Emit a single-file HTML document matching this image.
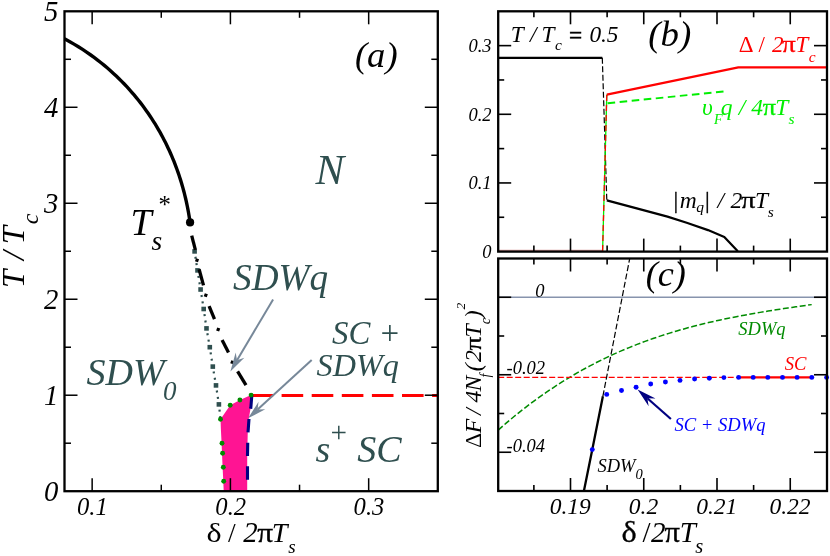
<!DOCTYPE html>
<html><head><meta charset="utf-8"><title>fig</title>
<style>html,body{margin:0;padding:0;background:#fff;}body{width:830px;height:556px;overflow:hidden;font-family:"Liberation Serif",serif;}svg{display:block;opacity:0.999;will-change:transform;font-family:"Liberation Serif",serif;}</style>
</head><body>
<svg width="830" height="556" viewBox="0 0 830 556">
<rect x="0" y="0" width="830" height="556" fill="#fff"/>
<polygon points="223.7,491.0 223.3,481.3 222.6,467.3 222.0,453.3 221.6,443.2 220.9,429.6 220.5,419.2 230.2,405.2 239.9,400.0 251.1,395.1 250.6,408.0 248.8,418.8 247.7,434.0 247.2,455.5 247.2,491.0" fill="#ff1493"/>
<polyline points="194.60,251.40 197.50,270.40 200.60,289.50 203.70,309.00 206.50,328.40 209.80,347.20 212.80,366.60 216.00,385.40 218.90,404.40 220.50,419.20" fill="none" stroke="#2f4f4f" stroke-width="2.2" stroke-dasharray="2 4.45" stroke-dashoffset="1"/>
<rect x="192.30" y="249.10" width="4.6" height="4.6" fill="#2f4f4f"/>
<rect x="195.20" y="268.10" width="4.6" height="4.6" fill="#2f4f4f"/>
<rect x="198.30" y="287.20" width="4.6" height="4.6" fill="#2f4f4f"/>
<rect x="201.40" y="306.70" width="4.6" height="4.6" fill="#2f4f4f"/>
<rect x="204.20" y="326.10" width="4.6" height="4.6" fill="#2f4f4f"/>
<rect x="207.50" y="344.90" width="4.6" height="4.6" fill="#2f4f4f"/>
<rect x="210.50" y="364.30" width="4.6" height="4.6" fill="#2f4f4f"/>
<rect x="213.70" y="383.10" width="4.6" height="4.6" fill="#2f4f4f"/>
<rect x="216.60" y="402.10" width="4.6" height="4.6" fill="#2f4f4f"/>
<polyline points="64.50,38.78 69.38,41.44 74.00,44.11 78.39,46.77 82.58,49.43 86.58,52.09 90.41,54.75 94.08,57.42 97.61,60.08 101.01,62.74 104.28,65.40 107.44,68.06 110.49,70.73 113.43,73.39 116.28,76.05 119.04,78.71 121.71,81.37 124.30,84.04 126.80,86.70 129.24,89.36 131.59,92.02 133.88,94.68 136.10,97.35 138.26,100.01 140.36,102.67 142.39,105.33 144.37,107.99 146.29,110.65 148.15,113.32 149.97,115.98 151.73,118.64 153.44,121.30 155.10,123.96 156.72,126.63 158.29,129.29 159.81,131.95 161.29,134.61 162.73,137.27 164.12,139.94 165.48,142.60 166.79,145.26 168.06,147.92 169.30,150.58 170.50,153.25 171.66,155.91 172.78,158.57 173.87,161.23 174.92,163.89 175.94,166.56 176.92,169.22 177.87,171.88 178.79,174.54 179.67,177.20 180.52,179.87 181.34,182.53 182.13,185.19 182.89,187.85 183.61,190.51 184.31,193.17 184.97,195.84 185.61,198.50 186.22,201.16 186.80,203.82 187.35,206.48 187.87,209.15 188.36,211.81 188.83,214.47 189.27,217.13 189.68,219.79 190.07,222.46" fill="none" stroke="#000" stroke-width="3.4" stroke-linejoin="round"/>
<circle cx="190.07" cy="222.46" r="4.1" fill="#000"/>
<line x1="191.70" y1="235.70" x2="195.40" y2="249.80" stroke="#000" stroke-width="3.3" />
<line x1="199.10" y1="269.30" x2="203.50" y2="285.40" stroke="#000" stroke-width="3.3" />
<line x1="209.10" y1="306.20" x2="214.50" y2="319.10" stroke="#000" stroke-width="3.3" />
<line x1="222.10" y1="340.00" x2="228.50" y2="352.60" stroke="#000" stroke-width="3.3" />
<line x1="237.60" y1="371.40" x2="246.00" y2="385.20" stroke="#000" stroke-width="3.3" />
<rect x="195.40" y="258.70" width="3.2" height="3.2" fill="#000" transform="rotate(20 197.0 260.3)"/>
<rect x="204.20" y="293.70" width="3.2" height="3.2" fill="#000" transform="rotate(20 205.8 295.3)"/>
<rect x="216.60" y="327.90" width="3.2" height="3.2" fill="#000" transform="rotate(20 218.2 329.5)"/>
<rect x="230.70" y="360.60" width="3.2" height="3.2" fill="#000" transform="rotate(20 232.3 362.2)"/>
<line x1="251.50" y1="395.40" x2="437.80" y2="395.40" stroke="#ff0000" stroke-width="3.0" stroke-dasharray="21.6 8.5"/>
<polyline points="251.80,395.50 250.80,408.00 249.00,418.80 247.90,434.00 247.50,455.50 247.50,491.00" fill="none" stroke="#000080" stroke-width="3.1" stroke-dasharray="13.4 10.3"/>
<circle cx="251.1" cy="395.1" r="2.45" fill="#008b00"/>
<circle cx="239.9" cy="400.0" r="2.45" fill="#008b00"/>
<circle cx="230.2" cy="405.2" r="2.45" fill="#008b00"/>
<circle cx="220.5" cy="419.2" r="2.45" fill="#008b00"/>
<circle cx="222.0" cy="443.2" r="2.45" fill="#008b00"/>
<circle cx="222.6" cy="453.3" r="2.45" fill="#008b00"/>
<circle cx="223.3" cy="467.3" r="2.45" fill="#008b00"/>
<circle cx="223.7" cy="481.3" r="2.45" fill="#008b00"/>
<line x1="273.10" y1="299.40" x2="237.03" y2="360.22" stroke="#778899" stroke-width="2.0" />
<polygon points="230.40,371.40 244.35,357.77 237.03,360.22 235.67,352.62" fill="#778899"/>
<line x1="311.70" y1="360.10" x2="257.60" y2="409.53" stroke="#778899" stroke-width="2.0" />
<polygon points="248.00,418.30 265.31,409.32 257.60,409.53 258.50,401.87" fill="#778899"/>
<rect x="64.5" y="11.3" width="373.30" height="479.90" fill="none" stroke="#000" stroke-width="2.3"/>
<line x1="92.15" y1="491.20" x2="92.15" y2="478.20" stroke="#000" stroke-width="1.5" />
<line x1="92.15" y1="11.30" x2="92.15" y2="24.30" stroke="#000" stroke-width="1.5" />
<line x1="161.28" y1="491.20" x2="161.28" y2="484.70" stroke="#000" stroke-width="1.5" />
<line x1="161.28" y1="11.30" x2="161.28" y2="17.80" stroke="#000" stroke-width="1.5" />
<line x1="230.41" y1="491.20" x2="230.41" y2="478.20" stroke="#000" stroke-width="1.5" />
<line x1="230.41" y1="11.30" x2="230.41" y2="24.30" stroke="#000" stroke-width="1.5" />
<line x1="299.54" y1="491.20" x2="299.54" y2="484.70" stroke="#000" stroke-width="1.5" />
<line x1="299.54" y1="11.30" x2="299.54" y2="17.80" stroke="#000" stroke-width="1.5" />
<line x1="368.67" y1="491.20" x2="368.67" y2="478.20" stroke="#000" stroke-width="1.5" />
<line x1="368.67" y1="11.30" x2="368.67" y2="24.30" stroke="#000" stroke-width="1.5" />
<line x1="64.50" y1="443.21" x2="71.00" y2="443.21" stroke="#000" stroke-width="1.5" />
<line x1="437.80" y1="443.21" x2="431.30" y2="443.21" stroke="#000" stroke-width="1.5" />
<line x1="64.50" y1="395.22" x2="77.50" y2="395.22" stroke="#000" stroke-width="1.5" />
<line x1="437.80" y1="395.22" x2="424.80" y2="395.22" stroke="#000" stroke-width="1.5" />
<line x1="64.50" y1="347.23" x2="71.00" y2="347.23" stroke="#000" stroke-width="1.5" />
<line x1="437.80" y1="347.23" x2="431.30" y2="347.23" stroke="#000" stroke-width="1.5" />
<line x1="64.50" y1="299.24" x2="77.50" y2="299.24" stroke="#000" stroke-width="1.5" />
<line x1="437.80" y1="299.24" x2="424.80" y2="299.24" stroke="#000" stroke-width="1.5" />
<line x1="64.50" y1="251.25" x2="71.00" y2="251.25" stroke="#000" stroke-width="1.5" />
<line x1="437.80" y1="251.25" x2="431.30" y2="251.25" stroke="#000" stroke-width="1.5" />
<line x1="64.50" y1="203.26" x2="77.50" y2="203.26" stroke="#000" stroke-width="1.5" />
<line x1="437.80" y1="203.26" x2="424.80" y2="203.26" stroke="#000" stroke-width="1.5" />
<line x1="64.50" y1="155.27" x2="71.00" y2="155.27" stroke="#000" stroke-width="1.5" />
<line x1="437.80" y1="155.27" x2="431.30" y2="155.27" stroke="#000" stroke-width="1.5" />
<line x1="64.50" y1="107.28" x2="77.50" y2="107.28" stroke="#000" stroke-width="1.5" />
<line x1="437.80" y1="107.28" x2="424.80" y2="107.28" stroke="#000" stroke-width="1.5" />
<line x1="64.50" y1="59.29" x2="71.00" y2="59.29" stroke="#000" stroke-width="1.5" />
<line x1="437.80" y1="59.29" x2="431.30" y2="59.29" stroke="#000" stroke-width="1.5" />
<text x="58.40" y="501.20" font-size="28.7" fill="#000" text-anchor="end" font-style="italic" >0</text>
<text x="58.40" y="405.22" font-size="28.7" fill="#000" text-anchor="end" font-style="italic" >1</text>
<text x="58.40" y="309.24" font-size="28.7" fill="#000" text-anchor="end" font-style="italic" >2</text>
<text x="58.40" y="213.26" font-size="28.7" fill="#000" text-anchor="end" font-style="italic" >3</text>
<text x="58.40" y="117.28" font-size="28.7" fill="#000" text-anchor="end" font-style="italic" >4</text>
<text x="58.40" y="21.30" font-size="28.7" fill="#000" text-anchor="end" font-style="italic" >5</text>
<text x="92.45" y="514.50" font-size="24.6" fill="#000" text-anchor="middle" font-style="italic" >0.1</text>
<text x="230.71" y="514.50" font-size="24.6" fill="#000" text-anchor="middle" font-style="italic" >0.2</text>
<text x="368.97" y="514.50" font-size="24.6" fill="#000" text-anchor="middle" font-style="italic" >0.3</text>
<g transform="translate(24.3,285.9) rotate(-90)">
<text x="-2.13" y="0.00" font-size="32.6" fill="#000" font-style="italic" font-weight="normal">T</text>
<text x="25.80" y="0.00" font-size="32.6" fill="#000" font-style="italic" font-weight="normal">/</text>
<text x="41.57" y="0.00" font-size="32.6" fill="#000" font-style="italic" font-weight="normal">T</text>
<text x="61.56" y="13.50" font-size="24" fill="#000" font-style="italic" font-weight="normal">c</text>
</g>
<text transform="translate(206.59,541.60) scale(1.1662,1)" font-size="27.5" fill="#000" font-style="normal" font-weight="normal">δ</text>
<text x="228.00" y="541.60" font-size="27.5" fill="#000" font-style="normal" font-weight="normal">/</text>
<text x="243.29" y="541.80" font-size="28.8" fill="#000" font-style="italic" font-weight="normal">2</text>
<text transform="translate(257.17,541.60) scale(1.1457,1)" font-size="27.5" fill="#000" font-style="normal" font-weight="normal" stroke="#000" stroke-width="0.3">π</text>
<text x="271.75" y="541.80" font-size="28.3" fill="#000" font-style="italic" font-weight="normal">T</text>
<text x="288.37" y="552.90" font-size="19" fill="#000" font-style="italic" font-weight="normal">s</text>
<text x="354.91" y="66.70" font-size="36.6" fill="#000" font-style="italic" font-weight="normal">(a)</text>
<text x="315.41" y="184.30" font-size="43" fill="#2f4f4f" font-style="italic" font-weight="normal">N</text>
<text x="233.06" y="290.00" font-size="37.2" fill="#2f4f4f" font-style="italic" font-weight="normal">SDWq</text>
<text x="332.02" y="344.30" font-size="32.8" fill="#2f4f4f" font-style="italic" font-weight="normal">SC +</text>
<text x="316.62" y="376.40" font-size="32.2" fill="#2f4f4f" font-style="italic" font-weight="normal">SDWq</text>
<text x="86.55" y="384.80" font-size="38" fill="#2f4f4f" font-style="italic" font-weight="normal">SDW</text>
<text x="162.96" y="399.80" font-size="27" fill="#2f4f4f" font-style="italic" font-weight="normal">0</text>
<text x="315.44" y="461.80" font-size="38" fill="#2f4f4f" font-style="italic" font-weight="normal">s</text>
<text x="328.70" y="442.00" font-size="29" fill="#2f4f4f" font-style="italic" font-weight="normal">+</text>
<text x="357.35" y="461.80" font-size="38" fill="#2f4f4f" font-style="italic" font-weight="normal">SC</text>
<text x="130.41" y="235.10" font-size="38" fill="#000" font-style="italic" font-weight="normal">T</text>
<text x="151.56" y="249.80" font-size="27.5" fill="#000" font-style="italic" font-weight="normal">s</text>
<text x="157.20" y="213.00" font-size="25" fill="#000" font-style="italic" font-weight="normal">*</text>
<polyline points="498.20,57.80 602.30,57.80" fill="none" stroke="#000" stroke-width="2.2" />
<polyline points="602.30,57.80 606.80,200.40" fill="none" stroke="#000" stroke-width="1.2" stroke-dasharray="6 2.5"/>
<polyline points="606.80,200.40 638.60,208.90 667.50,216.60 686.70,222.80 708.00,230.10 724.30,236.90 737.80,251.30" fill="none" stroke="#000" stroke-width="2.2" stroke-linejoin="round"/>
<polyline points="498.20,250.30 602.60,250.30" fill="none" stroke="#b03030" stroke-width="0.6" />
<polyline points="602.60,251.00 606.80,94.60" fill="none" stroke="#00ee00" stroke-width="1.3" />
<polyline points="602.60,251.00 606.80,94.60" fill="none" stroke="#ff0000" stroke-width="1.3" stroke-dasharray="6 4"/>
<polyline points="606.80,94.60 738.30,67.40 827.00,67.40" fill="none" stroke="#ff0000" stroke-width="2.1" stroke-linejoin="round"/>
<polyline points="607.60,103.20 724.60,91.40" fill="none" stroke="#00ee00" stroke-width="1.9" stroke-dasharray="7.6 4.5"/>
<rect x="498.2" y="11.3" width="328.80" height="240.30" fill="none" stroke="#000" stroke-width="2.3"/>
<line x1="533.88" y1="251.60" x2="533.88" y2="245.60" stroke="#000" stroke-width="1.6" />
<line x1="533.88" y1="11.30" x2="533.88" y2="17.30" stroke="#000" stroke-width="1.6" />
<line x1="533.88" y1="491.00" x2="533.88" y2="485.00" stroke="#000" stroke-width="1.6" />
<line x1="533.88" y1="258.50" x2="533.88" y2="264.50" stroke="#000" stroke-width="1.6" />
<line x1="570.50" y1="251.60" x2="570.50" y2="238.60" stroke="#000" stroke-width="1.6" />
<line x1="570.50" y1="11.30" x2="570.50" y2="24.30" stroke="#000" stroke-width="1.6" />
<line x1="570.50" y1="491.00" x2="570.50" y2="478.00" stroke="#000" stroke-width="1.6" />
<line x1="570.50" y1="258.50" x2="570.50" y2="271.50" stroke="#000" stroke-width="1.6" />
<line x1="607.12" y1="251.60" x2="607.12" y2="245.60" stroke="#000" stroke-width="1.6" />
<line x1="607.12" y1="11.30" x2="607.12" y2="17.30" stroke="#000" stroke-width="1.6" />
<line x1="607.12" y1="491.00" x2="607.12" y2="485.00" stroke="#000" stroke-width="1.6" />
<line x1="607.12" y1="258.50" x2="607.12" y2="264.50" stroke="#000" stroke-width="1.6" />
<line x1="643.75" y1="251.60" x2="643.75" y2="238.60" stroke="#000" stroke-width="1.6" />
<line x1="643.75" y1="11.30" x2="643.75" y2="24.30" stroke="#000" stroke-width="1.6" />
<line x1="643.75" y1="491.00" x2="643.75" y2="478.00" stroke="#000" stroke-width="1.6" />
<line x1="643.75" y1="258.50" x2="643.75" y2="271.50" stroke="#000" stroke-width="1.6" />
<line x1="680.37" y1="251.60" x2="680.37" y2="245.60" stroke="#000" stroke-width="1.6" />
<line x1="680.37" y1="11.30" x2="680.37" y2="17.30" stroke="#000" stroke-width="1.6" />
<line x1="680.37" y1="491.00" x2="680.37" y2="485.00" stroke="#000" stroke-width="1.6" />
<line x1="680.37" y1="258.50" x2="680.37" y2="264.50" stroke="#000" stroke-width="1.6" />
<line x1="717.00" y1="251.60" x2="717.00" y2="238.60" stroke="#000" stroke-width="1.6" />
<line x1="717.00" y1="11.30" x2="717.00" y2="24.30" stroke="#000" stroke-width="1.6" />
<line x1="717.00" y1="491.00" x2="717.00" y2="478.00" stroke="#000" stroke-width="1.6" />
<line x1="717.00" y1="258.50" x2="717.00" y2="271.50" stroke="#000" stroke-width="1.6" />
<line x1="753.62" y1="251.60" x2="753.62" y2="245.60" stroke="#000" stroke-width="1.6" />
<line x1="753.62" y1="11.30" x2="753.62" y2="17.30" stroke="#000" stroke-width="1.6" />
<line x1="753.62" y1="491.00" x2="753.62" y2="485.00" stroke="#000" stroke-width="1.6" />
<line x1="753.62" y1="258.50" x2="753.62" y2="264.50" stroke="#000" stroke-width="1.6" />
<line x1="790.25" y1="251.60" x2="790.25" y2="238.60" stroke="#000" stroke-width="1.6" />
<line x1="790.25" y1="11.30" x2="790.25" y2="24.30" stroke="#000" stroke-width="1.6" />
<line x1="790.25" y1="491.00" x2="790.25" y2="478.00" stroke="#000" stroke-width="1.6" />
<line x1="790.25" y1="258.50" x2="790.25" y2="271.50" stroke="#000" stroke-width="1.6" />
<line x1="498.20" y1="217.27" x2="504.20" y2="217.27" stroke="#000" stroke-width="1.6" />
<line x1="827.00" y1="217.27" x2="821.00" y2="217.27" stroke="#000" stroke-width="1.6" />
<line x1="498.20" y1="182.94" x2="511.20" y2="182.94" stroke="#000" stroke-width="1.6" />
<line x1="827.00" y1="182.94" x2="814.00" y2="182.94" stroke="#000" stroke-width="1.6" />
<line x1="498.20" y1="148.61" x2="504.20" y2="148.61" stroke="#000" stroke-width="1.6" />
<line x1="827.00" y1="148.61" x2="821.00" y2="148.61" stroke="#000" stroke-width="1.6" />
<line x1="498.20" y1="114.29" x2="511.20" y2="114.29" stroke="#000" stroke-width="1.6" />
<line x1="827.00" y1="114.29" x2="814.00" y2="114.29" stroke="#000" stroke-width="1.6" />
<line x1="498.20" y1="79.96" x2="504.20" y2="79.96" stroke="#000" stroke-width="1.6" />
<line x1="827.00" y1="79.96" x2="821.00" y2="79.96" stroke="#000" stroke-width="1.6" />
<line x1="498.20" y1="45.63" x2="511.20" y2="45.63" stroke="#000" stroke-width="1.6" />
<line x1="827.00" y1="45.63" x2="814.00" y2="45.63" stroke="#000" stroke-width="1.6" />
<text x="491.50" y="257.90" font-size="18.5" fill="#000" text-anchor="end" font-style="italic" >0</text>
<text x="491.50" y="189.24" font-size="18.5" fill="#000" text-anchor="end" font-style="italic" >0.1</text>
<text x="491.50" y="120.59" font-size="18.5" fill="#000" text-anchor="end" font-style="italic" >0.2</text>
<text x="491.50" y="51.93" font-size="18.5" fill="#000" text-anchor="end" font-style="italic" >0.3</text>
<text x="510.68" y="41.90" font-size="23.3" fill="#000" font-style="italic" font-weight="normal">T</text>
<text x="529.97" y="41.90" font-size="23.3" fill="#000" font-style="italic" font-weight="normal">/</text>
<text x="541.38" y="41.90" font-size="23.3" fill="#000" font-style="italic" font-weight="normal">T</text>
<text x="555.12" y="50.40" font-size="15.5" fill="#000" font-style="italic" font-weight="normal">c</text>
<text x="568.94" y="43.40" font-size="23.3" fill="#000" font-style="normal" font-weight="normal" stroke="#000" stroke-width="0.5">=</text>
<text x="589.40" y="41.90" font-size="23.3" fill="#000" font-style="italic" font-weight="normal">0.5</text>
<text x="648.31" y="46.00" font-size="36.8" fill="#000" font-style="italic" font-weight="normal">(b)</text>
<text x="738.72" y="52.40" font-size="23" fill="#ff0000" font-style="normal" font-weight="normal">Δ</text>
<text x="758.40" y="52.40" font-size="23" fill="#ff0000" font-style="normal" font-weight="normal">/</text>
<text x="771.99" y="52.40" font-size="23" fill="#ff0000" font-style="italic" font-weight="normal">2</text>
<text transform="translate(781.93,52.40) scale(1.1872,1)" font-size="23" fill="#ff0000" font-style="normal" font-weight="normal" stroke="#ff0000" stroke-width="0.3">π</text>
<text x="795.40" y="52.40" font-size="23" fill="#ff0000" font-style="italic" font-weight="normal">T</text>
<text x="808.72" y="61.60" font-size="15.5" fill="#ff0000" font-style="italic" font-weight="normal">c</text>
<text x="701.96" y="115.30" font-size="23.5" fill="#00ee00" font-style="italic" font-weight="normal">υ</text>
<text x="713.98" y="124.00" font-size="14" fill="#00ee00" font-style="italic" font-weight="normal">F</text>
<text x="720.72" y="115.30" font-size="23.5" fill="#00ee00" font-style="italic" font-weight="normal">q</text>
<text x="738.78" y="115.30" font-size="23.5" fill="#00ee00" font-style="italic" font-weight="normal">/</text>
<text x="751.34" y="115.30" font-size="23.5" fill="#00ee00" font-style="italic" font-weight="normal">4</text>
<text transform="translate(762.64,115.30) scale(1.1173,1)" font-size="23.5" fill="#00ee00" font-style="normal" font-weight="normal" stroke="#00ee00" stroke-width="0.3">π</text>
<text x="775.16" y="115.30" font-size="23.5" fill="#00ee00" font-style="italic" font-weight="normal">T</text>
<text x="788.61" y="124.00" font-size="15.5" fill="#00ee00" font-style="italic" font-weight="normal">s</text>
<text x="673.53" y="207.60" font-size="23.5" fill="#000" font-style="normal" font-weight="normal" stroke="#000" stroke-width="0.3">|</text>
<text x="679.75" y="207.60" font-size="23.5" fill="#000" font-style="italic" font-weight="normal">m</text>
<text x="696.29" y="212.00" font-size="15.5" fill="#000" font-style="italic" font-weight="normal">q</text>
<text x="705.03" y="207.60" font-size="23.5" fill="#000" font-style="normal" font-weight="normal" stroke="#000" stroke-width="0.3">|</text>
<text x="717.38" y="207.60" font-size="23.5" fill="#000" font-style="italic" font-weight="normal">/</text>
<text x="730.59" y="207.60" font-size="23.5" fill="#000" font-style="italic" font-weight="normal">2</text>
<text transform="translate(741.00,207.60) scale(1.2335,1)" font-size="23.5" fill="#000" font-style="normal" font-weight="normal" stroke="#000" stroke-width="0.3">π</text>
<text x="755.06" y="207.60" font-size="23.5" fill="#000" font-style="italic" font-weight="normal">T</text>
<text x="767.81" y="217.20" font-size="15.5" fill="#000" font-style="italic" font-weight="normal">s</text>
<line x1="498.20" y1="297.25" x2="827.00" y2="297.25" stroke="#8794ad" stroke-width="1.4" />
<polyline points="498.20,430.09 502.17,426.59 506.14,423.17 510.11,419.81 514.07,416.52 518.04,413.30 522.01,410.16 525.98,407.07 529.95,404.06 533.92,401.10 537.88,398.22 541.85,395.39 545.82,392.63 549.79,389.93 553.76,387.29 557.73,384.72 561.69,382.20 565.66,379.74 569.63,377.33 573.60,374.99 577.57,372.69 581.54,370.46 585.50,368.28 589.47,366.15 593.44,364.07 597.41,362.04 601.38,360.07 605.35,358.14 609.31,356.26 613.28,354.43 617.25,352.65 621.22,350.91 625.19,349.22 629.16,347.58 633.12,345.97 637.09,344.41 641.06,342.89 645.03,341.41 649.00,339.97 652.97,338.57 656.93,337.21 660.90,335.89 664.87,334.60 668.84,333.35 672.81,332.13 676.78,330.95 680.74,329.80 684.71,328.68 688.68,327.59 692.65,326.54 696.62,325.51 700.59,324.51 704.55,323.54 708.52,322.60 712.49,321.68 716.46,320.78 720.43,319.92 724.40,319.07 728.36,318.25 732.33,317.45 736.30,316.67 740.27,315.91 744.24,315.16 748.21,314.44 752.17,313.74 756.14,313.05 760.11,312.37 764.08,311.71 768.05,311.07 772.02,310.43 775.98,309.81 779.95,309.20 783.92,308.60 787.89,308.01 791.86,307.43 795.83,306.86 799.79,306.29 803.76,305.73 807.73,305.17 811.70,304.62" fill="none" stroke="#008b00" stroke-width="1.5" stroke-dasharray="6 2.5"/>
<line x1="498.20" y1="377.40" x2="739.00" y2="377.40" stroke="#ff0000" stroke-width="1.3" stroke-dasharray="6 2.5"/>
<line x1="738.80" y1="377.40" x2="811.60" y2="377.40" stroke="#ff0000" stroke-width="2.3" />
<polyline points="583.90,491.00 592.30,449.60 602.90,396.20" fill="none" stroke="#000" stroke-width="2.3" />
<polyline points="602.90,396.20 629.70,258.60" fill="none" stroke="#000" stroke-width="1.2" stroke-dasharray="6 2.5"/>
<circle cx="592.3" cy="449.6" r="2.45" fill="#0000ff"/>
<circle cx="606.7" cy="394.4" r="2.45" fill="#0000ff"/>
<circle cx="621.5" cy="390.5" r="2.45" fill="#0000ff"/>
<circle cx="636.1" cy="387.2" r="2.45" fill="#0000ff"/>
<circle cx="650.7" cy="384.0" r="2.45" fill="#0000ff"/>
<circle cx="665.4" cy="382.0" r="2.45" fill="#0000ff"/>
<circle cx="680.0" cy="380.4" r="2.45" fill="#0000ff"/>
<circle cx="694.6" cy="379.0" r="2.45" fill="#0000ff"/>
<circle cx="709.3" cy="378.2" r="2.45" fill="#0000ff"/>
<circle cx="723.9" cy="377.6" r="2.45" fill="#0000ff"/>
<circle cx="738.6" cy="377.4" r="2.45" fill="#0000ff"/>
<circle cx="753.2" cy="377.4" r="2.45" fill="#0000ff"/>
<circle cx="767.8" cy="377.4" r="2.45" fill="#0000ff"/>
<circle cx="782.5" cy="377.4" r="2.45" fill="#0000ff"/>
<circle cx="797.1" cy="377.4" r="2.45" fill="#0000ff"/>
<circle cx="811.8" cy="377.4" r="2.45" fill="#0000ff"/>
<circle cx="826.6" cy="377.4" r="2.45" fill="#0000ff"/>
<line x1="670.90" y1="419.00" x2="647.35" y2="398.20" stroke="#000080" stroke-width="2.2" />
<polygon points="637.60,389.60 648.66,406.27 647.35,398.20 655.51,398.51" fill="#000080"/>
<rect x="498.2" y="258.5" width="328.80" height="232.50" fill="none" stroke="#000" stroke-width="2.3"/>
<line x1="498.20" y1="452.25" x2="511.20" y2="452.25" stroke="#000" stroke-width="1.6" />
<line x1="827.00" y1="452.25" x2="814.00" y2="452.25" stroke="#000" stroke-width="1.6" />
<line x1="498.20" y1="413.50" x2="504.20" y2="413.50" stroke="#000" stroke-width="1.6" />
<line x1="827.00" y1="413.50" x2="821.00" y2="413.50" stroke="#000" stroke-width="1.6" />
<line x1="498.20" y1="374.75" x2="511.20" y2="374.75" stroke="#000" stroke-width="1.6" />
<line x1="827.00" y1="374.75" x2="814.00" y2="374.75" stroke="#000" stroke-width="1.6" />
<line x1="498.20" y1="336.00" x2="504.20" y2="336.00" stroke="#000" stroke-width="1.6" />
<line x1="827.00" y1="336.00" x2="821.00" y2="336.00" stroke="#000" stroke-width="1.6" />
<line x1="498.20" y1="297.25" x2="511.20" y2="297.25" stroke="#000" stroke-width="1.6" />
<line x1="827.00" y1="297.25" x2="814.00" y2="297.25" stroke="#000" stroke-width="1.6" />
<text x="570.30" y="514.00" font-size="23.5" fill="#000" text-anchor="middle" font-style="italic" >0.19</text>
<text x="643.55" y="514.00" font-size="23.5" fill="#000" text-anchor="middle" font-style="italic" >0.2</text>
<text x="716.80" y="514.00" font-size="23.5" fill="#000" text-anchor="middle" font-style="italic" >0.21</text>
<text x="790.05" y="514.00" font-size="23.5" fill="#000" text-anchor="middle" font-style="italic" >0.22</text>
<text x="535.30" y="296.80" font-size="18.5" fill="#000" text-anchor="start" font-style="italic" >0</text>
<text x="506.50" y="374.40" font-size="18.5" fill="#000" text-anchor="start" font-style="italic" >-0.02</text>
<text x="506.50" y="452.40" font-size="18.5" fill="#000" text-anchor="start" font-style="italic" >-0.04</text>
<text x="645.63" y="286.20" font-size="36.2" fill="#000" font-style="italic" font-weight="normal">(c)</text>
<text x="738.30" y="334.60" font-size="18.5" fill="#008b00" text-anchor="start" font-style="italic" >SDWq</text>
<text x="784.70" y="370.00" font-size="18.6" fill="#ff0000" text-anchor="start" font-style="italic" >SC</text>
<text x="674.40" y="430.90" font-size="18.6" fill="#0000ff" text-anchor="start" font-style="italic" >SC + SDWq</text>
<text x="597.50" y="471.60" font-size="18.5" fill="#000" text-anchor="start" font-style="italic" >SDW<tspan font-size="14.5" dy="7.6">0</tspan></text>
<text transform="translate(621.38,541.80) scale(1.1146,1)" font-size="29" fill="#000" font-style="normal" font-weight="normal" stroke="#000" stroke-width="0.3">δ</text>
<text x="642.50" y="541.80" font-size="29" fill="#000" font-style="normal" font-weight="normal">/</text>
<text x="651.09" y="541.80" font-size="29" fill="#000" font-style="italic" font-weight="normal">2</text>
<text transform="translate(664.58,541.80) scale(1.0575,1)" font-size="29" fill="#000" font-style="normal" font-weight="normal" stroke="#000" stroke-width="0.3">π</text>
<text x="679.70" y="541.80" font-size="29" fill="#000" font-style="italic" font-weight="normal">T</text>
<text x="695.25" y="552.80" font-size="20.5" fill="#000" font-style="italic" font-weight="normal">s</text>
<g transform="translate(480.9,447.0) rotate(-90)">
<text x="-0.90" y="0.00" font-size="23.7" fill="#000" font-style="normal" font-weight="normal">Δ</text>
<text x="13.83" y="0.00" font-size="23.7" fill="#000" font-style="italic" font-weight="normal">F</text>
<text x="32.09" y="0.00" font-size="23.7" fill="#000" font-style="italic" font-weight="normal">/</text>
<text x="44.54" y="0.00" font-size="23.7" fill="#000" font-style="italic" font-weight="normal">4</text>
<text x="55.57" y="0.00" font-size="23.7" fill="#000" font-style="italic" font-weight="normal">N</text>
<text x="69.64" y="9.40" font-size="14" fill="#000" font-style="italic" font-weight="normal">f</text>
<text x="75.77" y="0.00" font-size="23.7" fill="#000" font-style="italic" font-weight="normal">(</text>
<text x="85.09" y="0.00" font-size="23.7" fill="#000" font-style="italic" font-weight="normal">2</text>
<text transform="translate(96.62,0.00) scale(1.1699,1)" font-size="23.7" fill="#000" font-style="normal" font-weight="normal" stroke="#000" stroke-width="0.3">π</text>
<text x="109.45" y="0.00" font-size="23.7" fill="#000" font-style="italic" font-weight="normal">T</text>
<text x="122.87" y="9.20" font-size="14" fill="#000" font-style="italic" font-weight="normal">c</text>
<text x="128.72" y="0.00" font-size="23.7" fill="#000" font-style="italic" font-weight="normal">)</text>
<text x="137.59" y="-16.40" font-size="13.5" fill="#000" font-style="italic" font-weight="normal">2</text>
</g>
</svg></body></html>
